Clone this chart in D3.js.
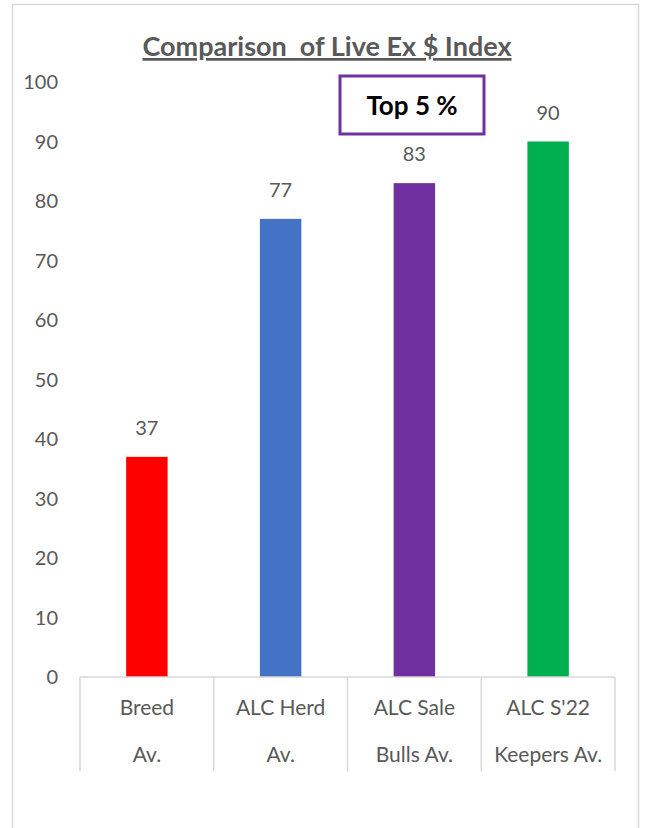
<!DOCTYPE html>
<html>
<head>
<meta charset="utf-8">
<script src="https://cdn.jsdelivr.net/npm/d3@7.9.0/dist/d3.min.js"></script>
<style>
  body { margin: 0; background: #fff; }
  svg { display: block; font-family: Lato, "Open Sans", sans-serif; }
</style>
</head>
<body>
<svg id="chart" width="649" height="828"></svg>
<script>
// data
const categories = [
  ['Breed', 'Av.'],
  ['ALC Herd', 'Av.'],
  ['ALC Sale', 'Bulls Av.'],
  ['ALC S\'22', 'Keepers Av.']
];
const values = [37, 77, 83, 90];
const barColors = ['#FF0000', '#4472C4', '#7030A0', '#00B050'];
const yTicks = [0, 10, 20, 30, 40, 50, 60, 70, 80, 90, 100];

const svg = d3.select('#chart');
const grey = '#595959';

// chart frame
svg.append('rect')
  .attr('x', 12.5).attr('y', 4.5)
  .attr('width', 626).attr('height', 840)
  .attr('fill', 'none').attr('stroke', '#d9d9d9').attr('stroke-width', 1.5);

const x = d3.scaleBand()
  .domain(d3.range(categories.length))
  .range([80, 615])
  .paddingInner(0.69)
  .paddingOuter(0.345);

// band edges without padding, for the category dividers
const xEdge = d3.scaleLinear().domain([0, categories.length]).range([80, 615]);

const y = d3.scaleLinear().domain([0, 100]).range([677, 82]);

// y tick labels (no axis line, no gridlines)
svg.append('g')
  .selectAll('text')
  .data(yTicks)
  .join('text')
  .attr('x', 58)
  .attr('y', d => y(d))
  .attr('dy', '0.35em')
  .attr('text-anchor', 'end')
  .attr('fill', grey)
  .attr('font-size', 20)
  .text(d => d);

// bars
svg.append('g')
  .selectAll('rect')
  .data(values)
  .join('rect')
  .attr('x', (d, i) => x(i))
  .attr('y', d => y(d))
  .attr('width', x.bandwidth())
  .attr('height', d => y(0) - y(d))
  .attr('fill', (d, i) => barColors[i]);

// value labels
svg.append('g')
  .selectAll('text')
  .data(values)
  .join('text')
  .attr('x', (d, i) => x(i) + x.bandwidth() / 2)
  .attr('y', d => y(d) - 22)
  .attr('text-anchor', 'middle')
  .attr('fill', grey)
  .attr('font-size', 20)
  .text(d => d);

// category axis: baseline + dividers
const axisG = svg.append('g').attr('stroke', '#d9d9d9').attr('stroke-width', 1.5);
axisG.append('line')
  .attr('x1', xEdge(0)).attr('x2', xEdge(categories.length))
  .attr('y1', y(0)).attr('y2', y(0));
axisG.selectAll('line.div')
  .data(d3.range(categories.length + 1))
  .join('line')
  .attr('class', 'div')
  .attr('x1', d => xEdge(d)).attr('x2', d => xEdge(d))
  .attr('y1', y(0)).attr('y2', 771);

// category labels, two lines each
const catG = svg.append('g')
  .selectAll('g')
  .data(categories)
  .join('g');
catG.append('text')
  .attr('x', (d, i) => x(i) + x.bandwidth() / 2)
  .attr('y', 715)
  .attr('text-anchor', 'middle')
  .attr('fill', grey)
  .attr('font-size', 21)
  .text(d => d[0]);
catG.append('text')
  .attr('x', (d, i) => x(i) + x.bandwidth() / 2)
  .attr('y', 762)
  .attr('text-anchor', 'middle')
  .attr('fill', grey)
  .attr('font-size', 21)
  .text(d => d[1]);

// title
svg.append('text')
  .attr('x', 327)
  .attr('y', 56)
  .attr('text-anchor', 'middle')
  .attr('fill', grey)
  .attr('font-size', 27)
  .attr('font-weight', 'bold')
  .attr('text-decoration', 'underline')
  .style('white-space', 'pre')
  .text('Comparison  of Live Ex $ Index');

// "Top 5 %" callout
svg.append('rect')
  .attr('x', 340).attr('y', 76)
  .attr('width', 144).attr('height', 58)
  .attr('fill', '#fff')
  .attr('stroke', '#7030A0').attr('stroke-width', 3);
svg.append('text')
  .attr('x', 412).attr('y', 106)
  .attr('dy', '0.35em')
  .attr('text-anchor', 'middle')
  .attr('fill', '#000')
  .attr('font-size', 26)
  .attr('font-weight', 'bold')
  .style('white-space', 'pre')
  .text('Top 5 %');
</script>
</body>
</html>
